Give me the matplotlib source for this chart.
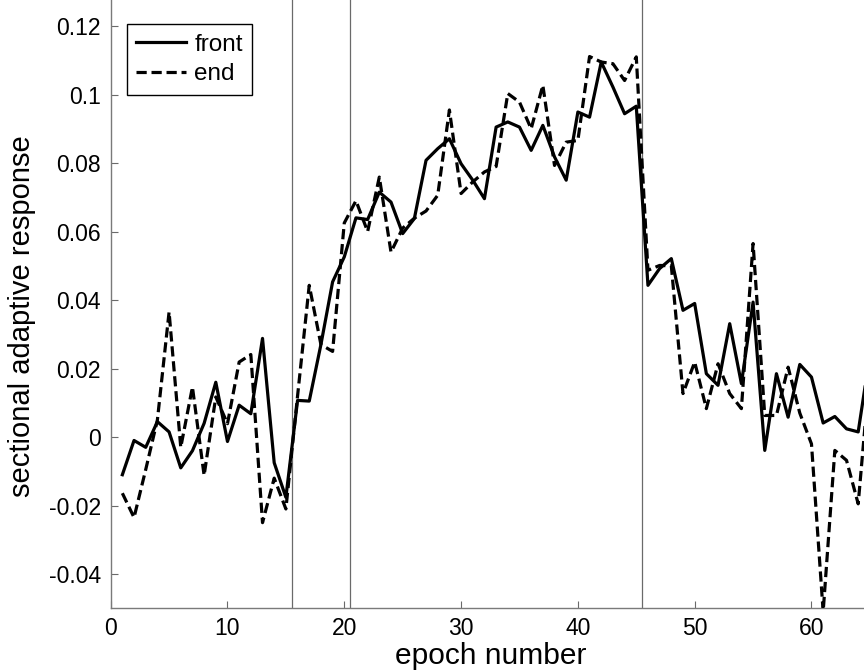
import numpy as np
import matplotlib
matplotlib.use("Agg")
from matplotlib import pyplot as plt

plt.rcParams['font.family'] = ['Liberation Sans', 'DejaVu Sans']
plt.rcParams['axes.unicode_minus'] = False

# sectional adaptive response per epoch, front and end sections
epoch = np.arange(1, 66)
front = [-0.011, -0.001, -0.003, 0.0045, 0.0015, -0.009, -0.004, 0.004, 0.016, -0.0013,
         0.0093, 0.0068, 0.0288, -0.0075, -0.0176, 0.0107, 0.0105, 0.027, 0.0453, 0.0526,
         0.064, 0.0635, 0.0715, 0.0686, 0.0594, 0.0638, 0.0808, 0.0842, 0.0871, 0.0798,
         0.075, 0.0696, 0.0905, 0.092, 0.0905, 0.0837, 0.091, 0.0818, 0.075, 0.0949,
         0.0934, 0.1095, 0.1022, 0.0944, 0.0966, 0.0443, 0.0492, 0.0521, 0.037, 0.039,
         0.0185, 0.0151, 0.0331, 0.0156, 0.0394, -0.0039, 0.0185, 0.0058, 0.0212, 0.0175,
         0.0041, 0.006, 0.0024, 0.0015, 0.024]
end = [-0.0164, -0.0235, -0.0095, 0.005, 0.0365, -0.003, 0.0146, -0.0112, 0.0117, 0.0039,
       0.0219, 0.0241, -0.025, -0.012, -0.021, 0.012, 0.0443, 0.027, 0.025, 0.0625,
       0.069, 0.060, 0.0759, 0.054, 0.061, 0.0639, 0.066, 0.0706, 0.0955, 0.0711,
       0.0745, 0.0774, 0.079, 0.1003, 0.0978, 0.090, 0.1027, 0.0793, 0.0861, 0.0866,
       0.1111, 0.1095, 0.109, 0.1041, 0.111, 0.0487, 0.0501, 0.0500, 0.0127, 0.0219,
       0.0083, 0.0214, 0.0127, 0.0083, 0.0565, 0.0063, 0.0063, 0.0204, 0.007, -0.002,
       -0.051, -0.0039, -0.0068, -0.0195, 0.0195]

# boundaries between training phases
phase_edges = [15.5, 20.5, 45.5]

xticks = [0, 10, 20, 30, 40, 50, 60]
yticks = [-0.04, -0.02, 0, 0.02, 0.04, 0.06, 0.08, 0.1, 0.12]

fig = plt.figure(figsize=(8.64, 6.72), dpi=100)
# axes run past the top and right edge of the figure
ax = fig.add_axes([0.1281, 0.0948, 0.8787, 0.9174])

for xe in phase_edges:
    ax.axvline(xe, color='#6a6a6a', lw=0.9, zorder=1)

ax.plot(epoch, front, color='black', lw=2.3, label='front', zorder=3)
ax.plot(epoch, end, color='black', lw=2.3, ls=(0, (3.2, 1.5)), label='end', zorder=3)

ax.set_xlim(0, 65)
ax.set_ylim(-0.05, 0.13)
ax.set_xticks(xticks)
ax.set_yticks(yticks)
ax.set_yticklabels(['{:g}'.format(v) for v in yticks])

for side in ['top', 'right']:
    ax.spines[side].set_visible(False)
for side in ['left', 'bottom']:
    ax.spines[side].set_color('#7a7a7a')
    ax.spines[side].set_linewidth(1.0)
ax.tick_params(direction='in', length=5, width=0.8, color='#6a6a6a',
               labelsize=16.5, labelcolor='black')
ax.tick_params(axis='y', pad=7)
ax.tick_params(axis='x', pad=6)

ax.set_xlabel('epoch number', fontsize=21.5, labelpad=2)
ax.set_ylabel('sectional adaptive response', fontsize=21)
ax.yaxis.set_label_coords(-0.0985, 0.474)

leg = ax.legend(loc='upper left', bbox_to_anchor=(126.7 / 864, 1 - 24 / 672),
                bbox_transform=fig.transFigure, borderaxespad=0,
                fontsize=17.5, handlelength=2.05, handletextpad=0.33,
                borderpad=0.4, labelspacing=0.3, fancybox=False,
                framealpha=1, edgecolor='black')
leg.get_frame().set_linewidth(1.0)

fig.savefig('out.png', dpi=100)
